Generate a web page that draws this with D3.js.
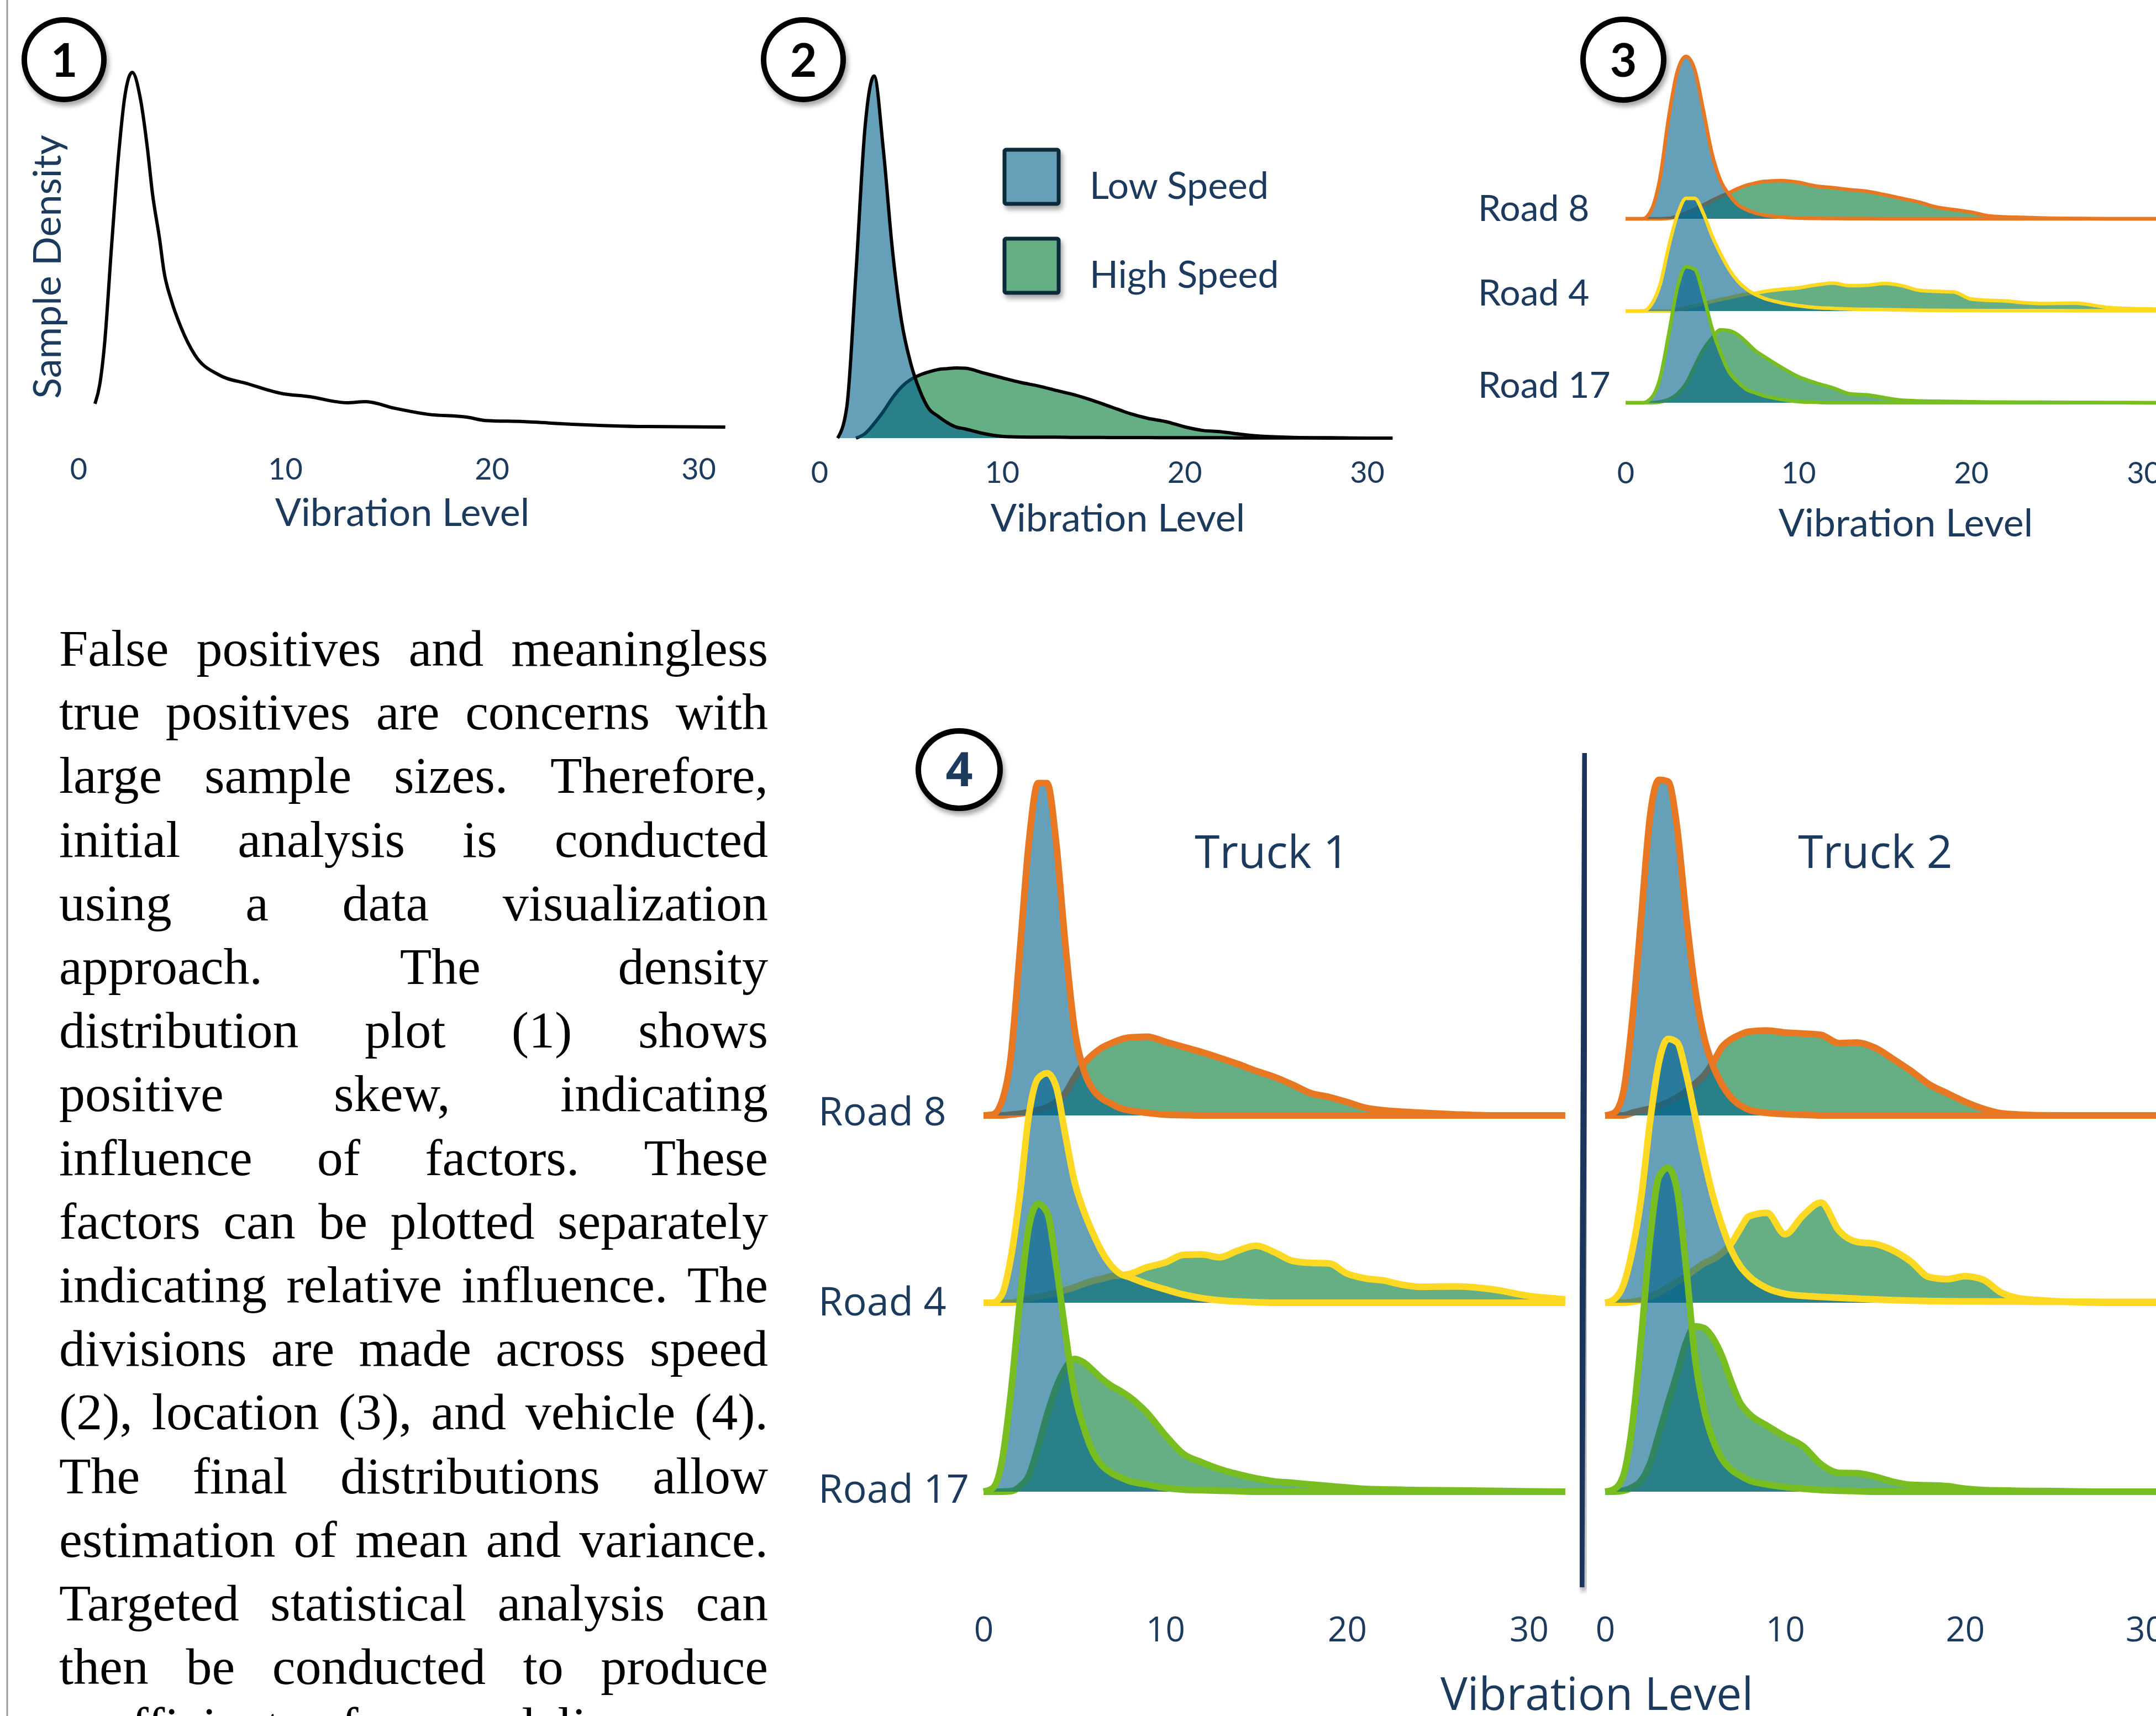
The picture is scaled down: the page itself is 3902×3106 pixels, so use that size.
<!DOCTYPE html>
<html><head><meta charset="utf-8">
<script src="https://cdn.jsdelivr.net/npm/d3@7"></script>
<style>html,body{margin:0;padding:0;background:#fff}svg{display:block}</style>
</head><body>
<svg id="fig" width="3902" height="3106"></svg>
<script>
// ---------------- DATA ----------------
const TICKS = [0, 10, 20, 30];

// Panel 1: overall density (vibration level, density)
const p1X = [0.8,1.04,1.26,1.6,1.93,2.25,2.6,3.0,3.34,3.58,3.93,4.14,4.49,4.95,5.64,6.79,8.18,9.79,11.18,13.0,13.9,15.3,16.9,18.8,19.7,21.5,23.9,27.5,31.3];
const p1Y = [1.37,2.52,4.69,10.2,15.2,18.7,20.0,18.5,15.7,13.2,10.6,8.8,7.2,5.7,4.1,3.0,2.5,1.96,1.77,1.43,1.49,1.12,0.78,0.62,0.43,0.37,0.22,0.09,0.06];

// Panel 2: by speed
const p2X = [1,1.5,2,2.5,3,3.5,4,4.5,5,5.5,6,6.5,7,7.5,8,9,10,11,12,13,14,15,16,17,18,19,20,21,22,23,24,26,28,30,31.4];
const p2Low  = [0,1.7,9.0,17.0,19.8,15.8,10.3,6.4,4.1,2.6,1.6,1.2,0.85,0.6,0.5,0.25,0.1,0.06,0.05,0.05,0.04,0.04,0.03,0.03,0.03,0.02,0.02,0.02,0.02,0.01,0.01,0.01,0,0,0];
const p2High = [null,null,0,0.25,0.8,1.45,2.2,2.8,3.2,3.45,3.62,3.75,3.8,3.84,3.82,3.56,3.3,3.05,2.85,2.6,2.36,2.05,1.7,1.35,1.08,0.9,0.62,0.42,0.35,0.22,0.12,0.04,0.02,0,0];
const SPEEDS = ["Low Speed", "High Speed"];

// Ridge panels (3 and 4): common vibration grid
const RX = [0,0.5,1,1.5,2,2.5,3,3.5,4,4.5,5,5.5,6,6.5,7,7.5,8,9,10,11,12,13,14,15,16,17,18,19,20,21,22,23,24,26,28,30,32];
const ROADS = ["Road 8", "Road 4", "Road 17"];
const TRUCKS = ["Truck 1", "Truck 2"];

// Panel 3: by road (low speed / high speed)
const p3Road8Low   = [0,0,0,1.1,5.0,12.3,17.8,19.6,18.0,13.1,7.9,4.6,2.9,1.7,1.1,0.7,0.45,0.2,0.08,0.05,0.03,0.02,0.01,0,0,0,0,0,0,0,0,0,0,0,0,0,0];
const p3Road8High  = [0,0,0,0,0,0.05,0.3,0.7,1.15,1.65,2.2,2.7,3.15,3.65,4.05,4.3,4.5,4.6,4.4,3.95,3.75,3.5,3.3,2.9,2.45,2.0,1.4,1.1,0.8,0.35,0.22,0.16,0.1,0.04,0,0,0];
const p3Road4Low   = [0,0,0,0.8,3.2,7.8,11.6,13.6,13.6,11.8,9.1,6.9,5.0,3.6,2.65,2.0,1.55,1.0,0.65,0.42,0.32,0.24,0.2,0.17,0.14,0.1,0.08,0.07,0.06,0.05,0.05,0.05,0.05,0.04,0.04,0.03,0.03];
const p3Road4High  = [0,0,0,0,0,0,0.17,0.4,0.62,0.9,1.15,1.4,1.6,1.85,2.03,2.16,2.35,2.62,2.8,3.15,3.36,3.06,3.12,3.33,3.06,2.5,2.38,2.3,1.45,1.3,1.22,1.02,0.9,0.95,0.42,0.26,0.22];
const p3Road17Low  = [0,0,0,0.6,3.0,8.3,13.9,16.4,16.1,13.0,9.0,6.0,3.7,2.5,1.6,1.2,0.85,0.42,0.14,0.06,0,0,0,0,0,0,0,0,0,0,0,0,0,0,0,0,0];
const p3Road17High = [0,0,0,0,0.1,0.4,1.05,2.3,4.4,6.4,7.8,8.8,8.7,8.2,7.3,6.3,5.6,4.3,3.15,2.4,1.8,1.07,0.95,0.61,0.31,0.21,0.18,0.15,0.12,0.09,0.08,0.07,0.06,0.04,0.02,0,0];

// Panel 4: by truck and road
const t1Road8Low   = [0,0.05,0.8,3.4,9.6,16.0,19.4,19.4,15.9,10.0,5.1,2.7,1.55,1.0,0.7,0.43,0.3,0.15,0.05,0.02,0,0,0,0,0,0,0,0,0,0,0,0,0,0,0,0,0];
const t1Road8High  = [0,0,0,0.05,0.1,0.2,0.32,0.48,0.8,1.3,2.2,3.0,3.55,3.95,4.2,4.42,4.55,4.6,4.3,4.0,3.7,3.36,3.0,2.6,2.25,1.8,1.3,1.08,0.78,0.45,0.3,0.22,0.16,0.06,0,0,0];
const t1Road4Low   = [0,0,0.45,2.6,6.3,11.0,13.1,13.4,12.6,9.8,7.1,5.4,4.1,3.0,2.2,1.7,1.5,1.1,0.78,0.48,0.27,0.14,0.07,0.03,0,0,0,0,0,0,0,0,0,0,0,0,0];
const t1Road4High  = [0,0,0,0,0.1,0.24,0.35,0.45,0.58,0.73,0.9,1.1,1.27,1.4,1.54,1.6,1.67,2.07,2.35,2.8,2.82,2.66,3.05,3.33,2.95,2.45,2.33,2.3,1.7,1.42,1.3,1.06,0.93,0.95,0.78,0.4,0.2];
const t1Road17Low  = [0,0.2,1.7,5.7,11.1,15.5,16.8,16.3,13.2,9.3,5.8,3.8,2.36,1.55,1.12,0.85,0.63,0.42,0.22,0.12,0.09,0.06,0.03,0,0,0,0,0,0,0,0,0,0,0,0,0,0];
const t1Road17High = [0,0,0,0.03,0.3,0.95,2.6,4.5,6.1,7.2,7.75,7.55,7.1,6.6,6.2,5.9,5.55,4.6,3.3,2.2,1.72,1.32,1.02,0.78,0.6,0.52,0.42,0.33,0.24,0.16,0.13,0.11,0.09,0.07,0.05,0.02,0];
const t2Road8Low   = [0,0.15,1.3,5.5,11.5,17.5,19.6,19.5,16.8,11.7,7.4,4.55,2.9,1.8,1.05,0.6,0.33,0.15,0.08,0.04,0,0,0,0,0,0,0,0,0,0,0,0,0,0,0,0,0];
const t2Road8High  = [0,0,0,0.15,0.28,0.4,0.56,0.78,1.05,1.4,1.85,2.35,3.1,4.0,4.45,4.72,4.9,4.96,4.84,4.78,4.7,4.22,4.26,3.95,3.3,2.6,1.82,1.3,0.8,0.4,0.13,0.05,0.01,0,0,0,0];
const t2Road4Low   = [0,0.2,1.0,3.0,6.1,10.6,14.1,15.4,15.2,13.4,10.9,8.4,6.2,4.5,3.1,2.15,1.55,0.85,0.52,0.4,0.34,0.29,0.24,0.19,0.15,0.12,0.1,0.09,0.08,0.08,0.07,0.07,0.06,0.06,0.05,0.05,0.05];
const t2Road4High  = [0,0,0,0.05,0.15,0.36,0.6,0.9,1.22,1.55,1.95,2.3,2.55,2.9,3.45,4.3,5.05,5.25,4.0,5.1,5.85,4.2,3.55,3.44,3.05,2.4,1.5,1.38,1.55,1.35,0.6,0.26,0.16,0.04,0,0,0];
const t2Road17Low  = [0,0.15,0.9,3.8,8.9,14.8,18.4,18.9,17.6,13.1,7.8,4.8,3.0,1.9,1.3,0.95,0.67,0.42,0.27,0.18,0.1,0.06,0.03,0,0,0,0,0,0,0,0,0,0,0,0,0,0];
const t2Road17High = [0,0,0.05,0.25,0.65,1.65,3.4,5.2,6.9,8.7,9.65,9.55,8.95,7.9,6.45,5.2,4.55,3.85,3.22,2.65,1.6,1.1,1.08,0.88,0.58,0.4,0.37,0.32,0.18,0.1,0.07,0.05,0.04,0.02,0,0,0];

const BODY_LINES = [
  "False positives and meaningless",
  "true positives are concerns with",
  "large sample sizes. Therefore,",
  "initial analysis is conducted",
  "using a data visualization",
  "approach. The density",
  "distribution plot (1) shows",
  "positive skew, indicating",
  "influence of factors. These",
  "factors can be plotted separately",
  "indicating relative influence. The",
  "divisions are made across speed",
  "(2), location (3), and vehicle (4).",
  "The final distributions allow",
  "estimation of mean and variance.",
  "Targeted statistical analysis can",
  "then be conducted to produce"
];
const BODY_TAIL = "coefficients for modeling";

// ---------------- STYLE ----------------
const NAVY = "#1C3A5E";
const GREEN = "#66AF84";
const BLUE = "rgb(4,98,139)";
const BLUE_OP = 0.61;
const ROAD_COLORS = ["#E87722", "#FDD923", "#78BE21"];
const SANS1 = "Lato, 'Open Sans', sans-serif";
const SANS4 = "'Open Sans', 'DejaVu Sans', sans-serif";

const svg = d3.select("#fig");
const defs = svg.append("defs");
const f = defs.append("filter").attr("id","sh").attr("x","-30%").attr("y","-30%").attr("width","170%").attr("height","170%");
f.append("feDropShadow").attr("dx",4).attr("dy",7).attr("stdDeviation",4).attr("flood-color","#000").attr("flood-opacity",0.35);

// left border
svg.append("line").attr("x1",13).attr("x2",13).attr("y1",0).attr("y2",3106)
  .attr("stroke","#9a9a9a").attr("stroke-width",3);

function badge(cx, cy, r, label, color, font, fs, base) {
  const g = svg.append("g");
  g.append("circle").attr("cx",cx).attr("cy",cy).attr("r",r)
    .attr("fill","#fff").attr("stroke","#000").attr("stroke-width",10).attr("filter","url(#sh)");
  g.append("text").attr("x",cx).attr("y",base).attr("text-anchor","middle")
    .attr("font-family",font).attr("font-weight",700).attr("font-size",fs).attr("fill",color).text(label);
}

function tickAxis(x, top, fs, font) {
  const g = svg.append("g").attr("transform",`translate(0,${top})`)
    .call(d3.axisBottom(x).tickValues(TICKS).tickSize(0).tickPadding(0));
  g.select(".domain").remove();
  g.selectAll("text").attr("font-family",font).attr("font-size",fs).attr("fill",NAVY);
  return g;
}

function axisTitle(text, cx, base, fs, font) {
  svg.append("text").attr("x",cx).attr("y",base).attr("text-anchor","middle")
    .attr("font-family",font).attr("font-size",fs).attr("fill",NAVY).text(text);
}

// ---------------- PANEL 1 ----------------
const x1 = d3.scaleLinear().domain([0,30]).range([142,1264]);
const y1 = d3.scaleLinear().domain([0,20]).range([775,131]);
svg.append("path")
  .attr("d", d3.line().x((d,i)=>x1(p1X[i])).y(d=>y1(d)).curve(d3.curveMonotoneX)(p1Y))
  .attr("fill","none").attr("stroke","#000").attr("stroke-width",6).attr("stroke-linejoin","round");
tickAxis(x1, 830, 54, SANS1);
axisTitle("Vibration Level", 728, 952, 70, SANS1);
svg.append("text").attr("transform","translate(110,483) rotate(-90)").attr("text-anchor","middle")
  .attr("font-family",SANS1).attr("font-size",70).attr("fill",NAVY).text("Sample Density");
badge(116,108,72,"1","#000",SANS1,84,139);

// ---------------- generic density pair ----------------
function densityPair(g, xs, x, y, low, high, color, sw) {
  const area = d3.area().defined(d=>d[1]!=null).x(d=>x(d[0])).y0(y(0)).y1(d=>y(d[1])).curve(d3.curveMonotoneX);
  const line = d3.line().defined(d=>d[1]!=null).x(d=>x(d[0])).y(d=>y(d[1])).curve(d3.curveMonotoneX);
  const hd = xs.map((v,i)=>[v, high[i]]);
  const ld = xs.map((v,i)=>[v, low[i]]);
  g.append("path").attr("d",area(hd)).attr("fill",GREEN);
  g.append("path").attr("d",line(hd)).attr("fill","none").attr("stroke",color).attr("stroke-width",sw).attr("stroke-linejoin","round");
  g.append("path").attr("d",area(ld)).attr("fill",BLUE).attr("fill-opacity",BLUE_OP);
  g.append("path").attr("d",line(ld)).attr("fill","none").attr("stroke",color).attr("stroke-width",sw).attr("stroke-linejoin","round");
}

// ---------------- PANEL 2 ----------------
const x2 = d3.scaleLinear().domain([0,30]).range([1483,2474]);
const y2 = d3.scaleLinear().domain([0,20]).range([793,131]);
densityPair(svg.append("g"), p2X, x2, y2, p2Low, p2High, "#000", 6);
tickAxis(x2, 836, 54, SANS1);
axisTitle("Vibration Level", 2023, 962, 70, SANS1);
badge(1454,108,72,"2","#000",SANS1,84,139);
// legend
const legFill = ["#669FB8", "#66AF84"];
SPEEDS.forEach((s,i)=>{
  const top = 271 + i*161;
  svg.append("rect").attr("x",1818).attr("y",top).attr("width",98).attr("height",98).attr("rx",3)
    .attr("fill",legFill[i]).attr("stroke","#0E2C3A").attr("stroke-width",7).attr("filter","url(#sh)");
  svg.append("text").attr("x",1972).attr("y",top+89).attr("font-family",SANS1).attr("font-size",68)
    .attr("fill",NAVY).text(s);
});

// ---------------- PANEL 3 ----------------
const x3 = d3.scaleLinear().domain([0,30]).range([2942,3880]);
const base3 = [396, 563, 729];
const p3Low = [p3Road8Low, p3Road4Low, p3Road17Low];
const p3High = [p3Road8High, p3Road4High, p3Road17High];
ROADS.forEach((r,i)=>{
  const y = d3.scaleLinear().domain([0,20]).range([base3[i], base3[i]-300]);
  densityPair(svg.append("g"), RX, x3, y, p3Low[i], p3High[i], ROAD_COLORS[i], 6.5);
});
const lab3 = [400, 553, 720];
ROADS.forEach((r,i)=>{
  svg.append("text").attr("x",2675).attr("y",lab3[i]).attr("font-family",SANS1).attr("font-size",66).attr("fill",NAVY).text(r);
});
tickAxis(x3, 837, 54, SANS1);
axisTitle("Vibration Level", 3449, 971, 70, SANS1);
badge(2938,108,73,"3","#000",SANS1,84,139);

// ---------------- PANEL 4 ----------------
const base4 = [2019, 2358, 2700];
const truckX = [
  d3.scaleLinear().domain([0,30]).range([1780,2767]),
  d3.scaleLinear().domain([0,30]).range([2905,3882])
];
const t4Low = [[t1Road8Low, t1Road4Low, t1Road17Low],[t2Road8Low, t2Road4Low, t2Road17Low]];
const t4High = [[t1Road8High, t1Road4High, t1Road17High],[t2Road8High, t2Road4High, t2Road17High]];
const truckCx = [2302, 3394];
TRUCKS.forEach((t,k)=>{
  ROADS.forEach((r,i)=>{
    const y = d3.scaleLinear().domain([0,20]).range([base4[i], base4[i]-620]);
    densityPair(svg.append("g"), RX, truckX[k], y, t4Low[k][i], t4High[k][i], ROAD_COLORS[i], 12);
  });
  svg.append("text").attr("x",truckCx[k]).attr("y",1571).attr("text-anchor","middle")
    .attr("font-family",SANS4).attr("font-size",82).attr("fill",NAVY).text(t);
  tickAxis(truckX[k], 2927, 62, SANS4);
});
const lab4 = [2037, 2381, 2720];
ROADS.forEach((r,i)=>{
  svg.append("text").attr("x",1481).attr("y",lab4[i]).attr("font-family",SANS4).attr("font-size",72).attr("fill",NAVY).text(r);
});
svg.append("line").attr("x1",2869).attr("y1",1363).attr("x2",2862).attr("y2",2873)
  .attr("stroke","#1B365D").attr("stroke-width",11).attr("filter","url(#sh)");
axisTitle("Vibration Level", 2890, 3095, 82, SANS4);
svg.append("ellipse").attr("cx",1736).attr("cy",1393).attr("rx",74).attr("ry",70)
  .attr("fill","#fff").attr("stroke","#000").attr("stroke-width",10).attr("filter","url(#sh)");
svg.append("text").attr("x",1736).attr("y",1423).attr("text-anchor","middle").attr("font-family",SANS4)
  .attr("font-weight",700).attr("font-size",86).attr("fill",NAVY).text("4");

// ---------------- BODY TEXT ----------------
const tg = svg.append("g").attr("font-family","'Liberation Serif','Times New Roman',serif").attr("font-size",94).attr("fill","#000");
const L = 107, R = 1390;
BODY_LINES.forEach((line,i)=>{
  const yb = 1205 + i*115.2;
  const words = line.split(" ");
  const nodes = words.map(w=>tg.append("text").attr("y",yb).text(w));
  const w = nodes.map(n=>n.node().getComputedTextLength());
  const gap = words.length>1 ? (R-L-d3.sum(w))/(words.length-1) : 0;
  let x = L;
  nodes.forEach((n,j)=>{ n.attr("x",x); x += w[j]+gap; });
});
tg.append("text").attr("x",L).attr("y",1205+17*115.2-8).attr("word-spacing",50).text(BODY_TAIL);
</script>
</body></html>
